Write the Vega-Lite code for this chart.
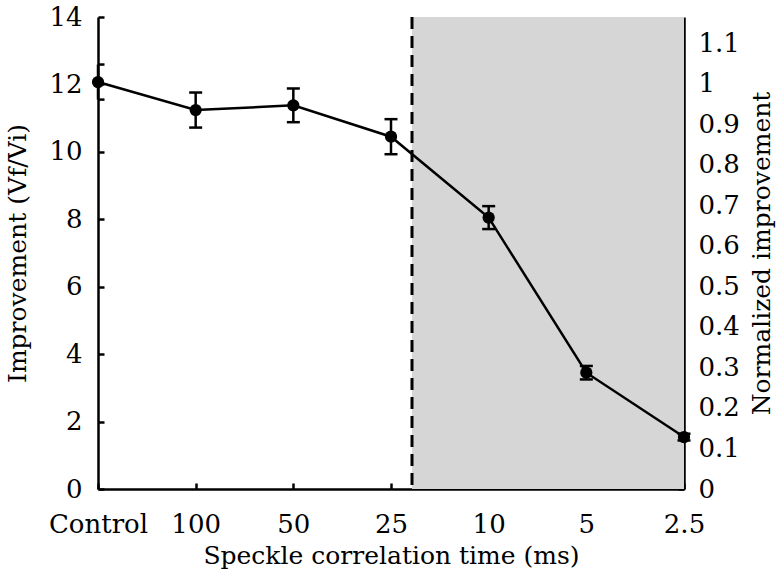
{
  "$schema": "https://vega.github.io/schema/vega-lite/v6.json",
  "width": 586,
  "height": 472,
  "autosize": {"type": "none"},
  "padding": {"left": 98, "top": 17, "right": 98, "bottom": 94},
  "background": "white",
  "config": {
    "view": {"stroke": null},
    "font": "DejaVu Serif",
    "axis": {
      "grid": false,
      "domainColor": "black",
      "domainWidth": 2.5,
      "tickColor": "black",
      "tickWidth": 2.5,
      "tickSize": -6,
      "labelColor": "black",
      "labelFont": "DejaVu Serif",
      "labelFontSize": 26,
      "titleFont": "DejaVu Serif",
      "titleFontSize": 25,
      "titleFontWeight": "normal",
      "titleColor": "black"
    }
  },
  "layer": [
    {
      "data": {"values": [{"start": 3.215, "end": 6, "low": 0, "high": 1.165}]},
      "mark": {"type": "rect", "color": "#d6d6d6"},
      "encoding": {
        "x": {"field": "start", "type": "quantitative", "scale": {"domain": [0, 6], "nice": false, "zero": false}},
        "x2": {"field": "end"},
        "y": {"field": "low", "type": "quantitative",
              "scale": {"domain": [0, 1.165], "nice": false, "zero": true},
              "axis": {"orient": "right", "title": "Normalized improvement", "values": [0, 0.1, 0.2, 0.3, 0.4, 0.5, 0.6, 0.7, 0.8, 0.9, 1, 1.1],
                       "labelExpr": "format(datum.value, '~g')",
                       "labelPadding": 20, "titlePadding": 10, "titleAngle": -90, "titleBaseline": "top", "labelFlush": false, "labelOverlap": false}},
        "y2": {"field": "high"}
      }
    },
    {
      "data": {"values": [
        {"idx": 0, "label": "Control", "v": 12.07, "lo": 11.55, "hi": 12.59},
        {"idx": 1, "label": "100", "v": 11.24, "lo": 10.72, "hi": 11.76},
        {"idx": 2, "label": "50", "v": 11.38, "lo": 10.88, "hi": 11.88},
        {"idx": 3, "label": "25", "v": 10.45, "lo": 9.93, "hi": 10.97},
        {"idx": 4, "label": "10", "v": 8.05, "lo": 7.71, "hi": 8.39},
        {"idx": 5, "label": "5", "v": 3.45, "lo": 3.25, "hi": 3.65},
        {"idx": 6, "label": "2.5", "v": 1.54, "lo": 1.44, "hi": 1.64}
      ]},
      "encoding": {
        "x": {"field": "idx", "type": "quantitative",
              "scale": {"domain": [0, 6], "nice": false, "zero": false},
              "axis": {"title": "Speckle correlation time (ms)", "values": [0, 1, 2, 3, 4, 5, 6],
                       "labelExpr": "['Control','100','50','25','10','5','2.5'][datum.value]",
                       "labelPadding": 28, "titlePadding": 6, "labelFlush": false}}
      },
      "layer": [
        {
          "data": {"values": [{"pos": 3.215}]},
          "mark": {"type": "rule", "color": "black", "strokeWidth": 3, "strokeDash": [12, 7]},
          "encoding": {"x": {"field": "pos", "type": "quantitative"}}
        },
        {
          "mark": {"type": "rule", "color": "black", "strokeWidth": 2.5},
          "encoding": {
            "y": {"field": "lo", "type": "quantitative",
                  "scale": {"domain": [0, 14], "nice": false},
                  "axis": {"title": "Improvement (Vf/Vi)", "values": [0, 2, 4, 6, 8, 10, 12, 14], "labelPadding": 22, "titlePadding": 18, "labelFlush": false}},
            "y2": {"field": "hi"}
          }
        },
        {
          "transform": [{"filter": "datum.idx > 0"}],
          "mark": {"type": "tick", "orient": "horizontal", "color": "black", "thickness": 2.5, "size": 13, "opacity": 1},
          "encoding": {"y": {"field": "lo", "type": "quantitative"}}
        },
        {
          "transform": [{"filter": "datum.idx > 0"}],
          "mark": {"type": "tick", "orient": "horizontal", "color": "black", "thickness": 2.5, "size": 13, "opacity": 1},
          "encoding": {"y": {"field": "hi", "type": "quantitative"}}
        },
        {
          "transform": [{"filter": "datum.idx == 0"}],
          "mark": {"type": "tick", "orient": "horizontal", "color": "black", "thickness": 2.5, "size": 6.5, "xOffset": 3.25, "opacity": 1},
          "encoding": {"y": {"field": "lo", "type": "quantitative"}}
        },
        {
          "transform": [{"filter": "datum.idx == 0"}],
          "mark": {"type": "tick", "orient": "horizontal", "color": "black", "thickness": 2.5, "size": 6.5, "xOffset": 3.25, "opacity": 1},
          "encoding": {"y": {"field": "hi", "type": "quantitative"}}
        },
        {
          "mark": {"type": "line", "color": "black", "strokeWidth": 2.5},
          "encoding": {"y": {"field": "v", "type": "quantitative"}}
        },
        {
          "mark": {"type": "point", "filled": true, "color": "black", "opacity": 1, "size": 150},
          "encoding": {"y": {"field": "v", "type": "quantitative"}}
        }
      ]
    }
  ],
  "resolve": {"scale": {"y": "independent"}}
}
